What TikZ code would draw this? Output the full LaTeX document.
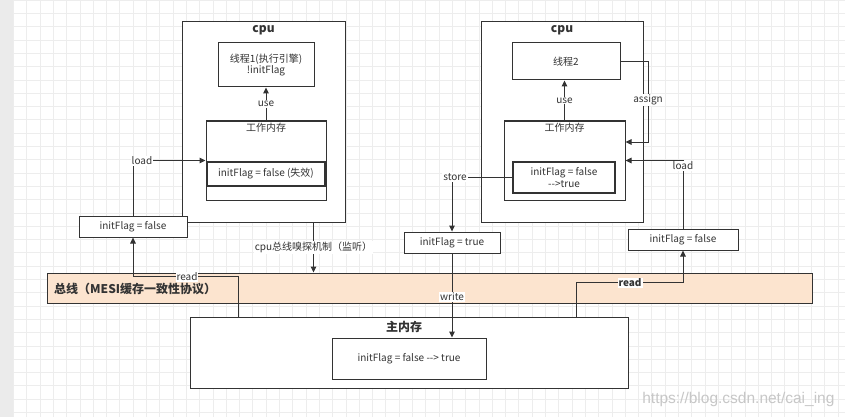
\documentclass[tikz,border=0pt]{standalone}
\usepackage{fontspec}
\setmainfont{Noto Sans CJK SC}
\newfontfamily\wmfont{Liberation Sans}
\usetikzlibrary{arrows.meta}
\definecolor{ln}{HTML}{333333}
\definecolor{busfill}{HTML}{FCE4CF}
\tikzset{
  box/.style={draw=ln, line width=1pt, fill=white, inner sep=0pt, align=center, text=ln, font=\fontsize{10}{11.5}\selectfont},
  thickbox/.style={box, line width=1.8pt},
  arr/.style={draw=ln, line width=1pt, -{Triangle[length=6pt,width=5.5pt]}},
  lbl/.style={fill=white, inner sep=1pt, text=ln, font=\fontsize{10}{11.5}\selectfont},
  ttl/.style={text=ln, font=\fontsize{12}{13}\selectfont\bfseries, inner sep=0pt},
  sub/.style={text=ln, font=\fontsize{10}{11.5}\selectfont, inner sep=0pt}
}
\begin{document}
\begin{tikzpicture}[x=1pt,y=-1pt]
\useasboundingbox (0,0) rectangle (845,417);
\fill[white] (0,0) rectangle (845,417);
\draw[black!7, step=13.3pt, line width=0.5pt] (13,0) grid (845,417);
\fill[black!8] (0,0) rectangle (13,417);

% left cpu
\node[box, minimum width=163pt, minimum height=200pt] (lcpu) at (263.5,122) {};
\node[ttl] (lcput) at (263.5,30) {cpu};
\node[box, minimum width=96pt, minimum height=44pt] (t1) at (266,65) {线程1(执行引擎)\\!initFlag};
\node[box, minimum width=120pt, minimum height=79pt] (wm1) at (266,160.5) {};
\node[sub] (wm1t) at (266,128) {工作内存};
\node[thickbox, minimum width=118pt, minimum height=24pt] (in1) at (266,174) {initFlag = false (失效)};
\node[box, minimum width=108pt, minimum height=21pt] (lb) at (133,226.5) {initFlag = false};

% bus
\node[draw=ln, line width=1pt, fill=busfill, minimum width=765pt, minimum height=30pt, inner sep=0pt] (bus) at (429.5,288) {};
\node[ttl, anchor=west] (bust) at (54,289) {总线（MESI缓存一致性协议）};

% main memory
\node[box, minimum width=438pt, minimum height=71pt] (mm) at (409,352.5) {};
\node[ttl] (mmt) at (404,327) {主内存};
\node[box, minimum width=154pt, minimum height=41pt] (mi) at (409,358.5) {initFlag = false -{}-> true};

% right cpu
\node[box, minimum width=162pt, minimum height=200pt] (rcpu) at (562,122) {};
\node[ttl] (rcput) at (562,30) {cpu};
\node[box, minimum width=108pt, minimum height=37pt] (t2) at (566,61.5) {线程2};
\node[box, minimum width=121pt, minimum height=79pt] (wm2) at (564.5,160.5) {};
\node[sub] (wm2t) at (564.5,128) {工作内存};
\node[thickbox, line width=1.3pt, minimum width=102pt, minimum height=31pt] (in2) at (564,177.5) {initFlag = false\\-{}->true};
\node[box, minimum width=96pt, minimum height=21pt] (tb) at (452,242.5) {initFlag = true};
\node[box, minimum width=110pt, minimum height=21pt] (rb) at (683,239.5) {initFlag = false};

% connectors left
\draw[arr] (wm1.north) -- node[lbl] {use} (t1.south);
\draw[arr] (lb.north) |- (wm1.west);
\node[lbl] at (142,161) {load};
\draw[arr] ([xshift=49pt]mm.north west) -- ++(0,-40) -| (lb.south);
\node[lbl, inner sep=0.5pt] at (187,277) {read};
\draw[arr] ([xshift=-32pt]lcpu.south east) -- ([xshift=-32pt]lcpu.south east |- bus.north)
  node[lbl, pos=0.5] {cpu总线嗅探机制（监听）};

% connectors right
\draw[arr] (wm2.north) -- node[lbl] {use} (wm2.north |- t2.south);
\draw[arr] (t2.east) -- ++(28,0) |- ([yshift=18.5pt]wm2.east);
\node[lbl] at (648,100) {assign};
\draw[arr] (rb.north) |- (wm2.east);
\node[lbl] at (683,166) {load};
\draw[arr] (in2.west) -| (tb.north);
\node[lbl] at (455,177) {store};
\draw[arr] (tb.south) -- (tb.south |- mi.north);
\node[lbl] at (452,297) {write};
\draw[arr] ([xshift=-52pt]mm.north east) -- ++(0,-34) -| (rb.south);
\node[lbl, font=\fontsize{10}{11.5}\selectfont\bfseries] at (630,283) {read};

\node[text=black!22, font=\wmfont\fontsize{15.5}{17}\selectfont, anchor=east] (wm) at (838,399) {https://blog.csdn.net/cai\_ing};
\end{tikzpicture}
\end{document}
